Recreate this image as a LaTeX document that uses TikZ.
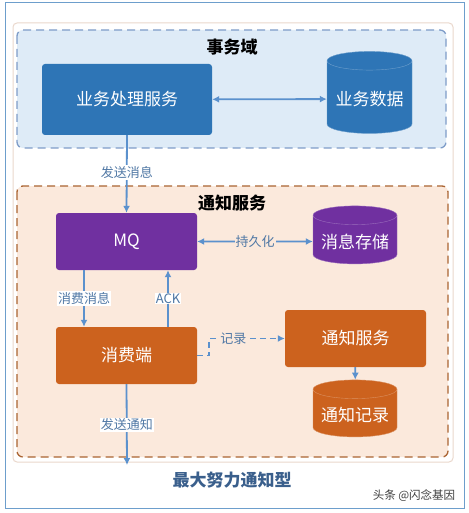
\documentclass[tikz,border=0pt]{standalone}
\usepackage{fontspec}
\setmainfont{Noto Sans CJK SC}
\usepackage{xcolor}
\usepackage{tikz}
\usetikzlibrary{arrows.meta,positioning,calc,shapes.geometric}
\definecolor{azul}{RGB}{46,117,182}
\definecolor{azulclaro}{RGB}{222,235,247}
\definecolor{borde}{RGB}{126,156,200}
\definecolor{flecha}{RGB}{91,145,205}
\definecolor{morado}{RGB}{112,48,160}
\definecolor{naranja}{RGB}{204,98,30}
\definecolor{melocoton}{RGB}{251,233,220}
\definecolor{marron}{RGB}{170,100,50}
\definecolor{textoazul}{RGB}{80,120,165}
\definecolor{titulo}{RGB}{58,95,140}

\tikzset{
  caja/.style={rounded corners=3pt,text=white,font=\fontsize{17}{17}\selectfont,minimum width=141pt,minimum height=57pt},
  bd/.style={cylinder,shape border rotate=90,aspect=0.25,text=white,font=\fontsize{17}{17}\selectfont,minimum width=84pt},
  linea/.style={draw=flecha,line width=1.8pt},
  etiqueta/.style={fill=white,inner sep=1pt,text=textoazul,font=\fontsize{13}{13}\selectfont}
}

\begin{document}
\begin{tikzpicture}[x=1pt,y=-1pt,>={Latex[length=7pt,width=7pt]}]
\useasboundingbox (0,0) rectangle (468,513);
\fill[white] (0,0) rectangle (468,513);
\draw[draw=azul!70,line width=1pt] (5,3) rectangle (464,508);
\draw[draw=marron!25,fill=white,rounded corners=4pt,line width=1pt] (13,23) rectangle (453,462);

% regiones
\draw[draw=borde,fill=azulclaro,dashed,dash pattern=on 8pt off 5pt,line width=1.3pt,rounded corners=6pt] (17,30) rectangle (446,148);
\draw[draw=marron,fill=melocoton,dashed,dash pattern=on 8pt off 5pt,line width=1.3pt,rounded corners=6pt] (17,186) rectangle (448,457);
\node[font=\fontsize{17}{17}\selectfont\bfseries] (txdom) at (232,47) {事务域};
\node[font=\fontsize{17}{17}\selectfont\bfseries] (notidom) at (232,203) {通知服务};

\node[caja,fill=azul,minimum width=170pt,minimum height=71pt] (biz) at (127,99.5) {业务处理服务};
\node[bd,fill=azul,draw=azul!70!white,minimum width=85pt,minimum height=82pt] (bizdb) at (369.5,99) {业务数据};

\node[caja,fill=morado] (mq) at (126.5,241.5) {MQ};
\node[bd,fill=morado,draw=morado!70!white,minimum height=58pt] (msgdb) at (355,241.5) {消息存储};

\node[caja,fill=naranja] (cons) at (126.5,355.5) {消费端};
\node[caja,fill=naranja] (svc) at (355.5,338.5) {通知服务};
\node[bd,fill=naranja,draw=naranja!70!white,minimum height=57pt] (recdb) at (355,415) {通知记录};

\coordinate (out) at (127,465);

% conectores
\draw[linea,<->] (biz) -- (bizdb);
\draw[linea,->] (biz.south) -- node[etiqueta,pos=0.48] {发送消息} (mq.north);
\draw[linea,<->] (mq) -- node[etiqueta,fill=melocoton] {持久化} (msgdb);
\draw[linea,->] ([xshift=-42.5pt]mq.south) -- node[etiqueta] {消费消息} ([xshift=-42.5pt]cons.north);
\draw[linea,->] ([xshift=41.5pt]cons.north) -- node[etiqueta] {ACK} ([xshift=41.5pt]mq.south);
\draw[linea,dashed,dash pattern=on 6pt off 4pt,->] (cons.east) -- ++(12,0) |- node[etiqueta,fill=melocoton,pos=0.66] {记录} (svc.west);
\draw[linea,->] (svc) -- (recdb);
\draw[linea,->] (cons.south) -- node[etiqueta,pos=0.5] {发送通知} (out);

\node[text=titulo,font=\fontsize{17}{17}\selectfont\bfseries] (caption) at (232,480) {最大努力通知型};
\node[text=black!75,font=\fontsize{11.5}{12}\selectfont] (marca) at (414,496) {头条 @闪念基因};
\end{tikzpicture}
\end{document}
